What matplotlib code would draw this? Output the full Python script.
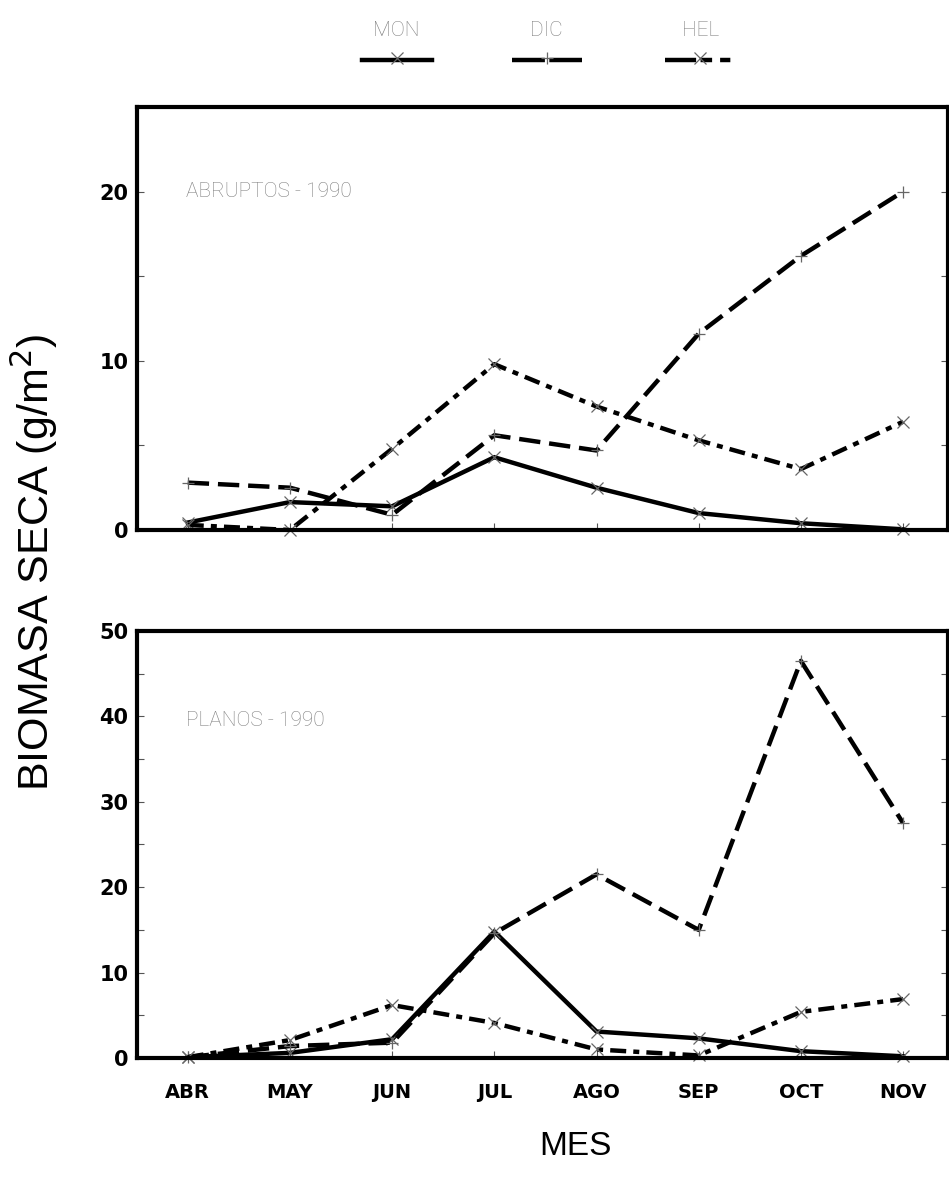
import matplotlib
matplotlib.use("Agg")
import matplotlib.pyplot as plt
from matplotlib.lines import Line2D
from matplotlib.ticker import MultipleLocator

months = ["ABR", "MAY", "JUN", "JUL", "AGO", "SEP", "OCT", "NOV"]
series_names = ["MON", "DIC", "HEL"]

abr_mon = [0.44, 1.65, 1.4, 4.3, 2.5, 1.0, 0.4, 0.04]
abr_dic = [2.8, 2.5, 0.9, 5.6, 4.7, 11.6, 16.2, 20.0]
abr_hel = [0.3, 0.0, 4.8, 9.8, 7.3, 5.3, 3.6, 6.4]

pla_mon = [0.1, 0.6, 2.2, 14.8, 3.1, 2.3, 0.8, 0.2]
pla_dic = [0.1, 1.4, 1.8, 14.6, 21.5, 15.0, 46.5, 27.5]
pla_hel = [0.1, 2.1, 6.2, 4.1, 1.0, 0.3, 5.4, 6.9]

panel_labels = ["ABRUPTOS - 1990", "PLANOS - 1990"]

FIG_W, FIG_H = 9.49, 11.77
fig = plt.figure(figsize=(FIG_W, FIG_H), dpi=100)

LW = 3.2
styles = {
    "MON": dict(linestyle="-", marker="x"),
    "DIC": dict(linestyle=(0, (4.8, 2.0)), marker="+"),
    "HEL": dict(linestyle=(0, (3.6, 1.6, 1.35, 1.6)), marker="x"),
}
legend_dash = {
    "MON": "-",
    "DIC": (0, (7.4, 1.0)),
    "HEL": (0, (7.0, 1.0, 2.6, 1.8, 2.3, 5.0)),
}
mk = dict(markersize=9, markeredgewidth=0.9, markeredgecolor="#666666", color="black",
          linewidth=LW, dash_capstyle="butt", solid_joinstyle="miter")

light_font = dict(family="Roboto", weight="light")

def setup(ax, ymax, major, minor):
    ax.set_xlim(-0.5, 7.44)
    ax.set_ylim(0, ymax)
    ax.yaxis.set_major_locator(MultipleLocator(major))
    ax.yaxis.set_minor_locator(MultipleLocator(minor))
    for s in ax.spines.values():
        s.set_linewidth(3.0)
    ax.tick_params(which="both", direction="in", right=True, top=False,
                   length=5, width=0.8, color="#555555")
    ax.tick_params(axis="y", labelsize=15, pad=6)
    for lab in ax.get_yticklabels():
        lab.set_fontfamily("DejaVu Sans")
        lab.set_fontweight("bold")

x = list(range(len(months)))

ax1 = fig.add_axes([0.144, 0.5497, 0.855, 0.3594])
ax2 = fig.add_axes([0.144, 0.1011, 0.855, 0.3628])

for ax, data, ymax, major, minor, lbl, ly in [
    (ax1, [abr_mon, abr_dic, abr_hel], 25, 10, 5, panel_labels[0], 20),
    (ax2, [pla_mon, pla_dic, pla_hel], 50, 10, 5, panel_labels[1], 39.5),
]:
    for name, vals in zip(series_names, data):
        ax.plot(x, vals, label=name, **styles[name], **mk, clip_on=False)
    setup(ax, ymax, major, minor)
    ax.set_xticks(x)
    ax.text(-0.02, ly, lbl, fontsize=15, color="#808080", va="center", ha="left", **light_font)

ax1.set_xticklabels([])
ax1.set_yticks([0, 10, 20])
ax2.set_xticklabels(months)
for lab in ax2.get_xticklabels():
    lab.set_fontfamily("DejaVu Sans")
    lab.set_fontweight("bold")
    lab.set_fontsize(14)
ax2.tick_params(axis="x", pad=18)

fig.text(0.036, 0.522, "BIOMASA SECA (g/m$^2$)", rotation=90, ha="center", va="center",
         fontsize=31, family="Liberation Sans")
fig.text(0.606, 0.026, "MES", ha="center", va="center", fontsize=24, family="Liberation Sans")

# legend on top: label above line sample
leg_centers = [0.418, 0.576, 0.738]
leg_half = 0.037
for name, cx in zip(series_names, leg_centers):
    fig.text(cx, 0.9745, name, ha="center", va="center", fontsize=15, color="#808080", **light_font)
    st = styles[name]
    fig.add_artist(Line2D([cx - leg_half, cx + leg_half], [0.949, 0.949],
                          transform=fig.transFigure, color="black", linewidth=LW,
                          linestyle=legend_dash[name], dash_capstyle="butt"))
    fig.add_artist(Line2D([cx], [0.951], transform=fig.transFigure, marker=st["marker"],
                          markersize=8, markeredgewidth=0.9, markeredgecolor="#666666",
                          linestyle="none"))

fig.savefig("out.png", dpi=100)
